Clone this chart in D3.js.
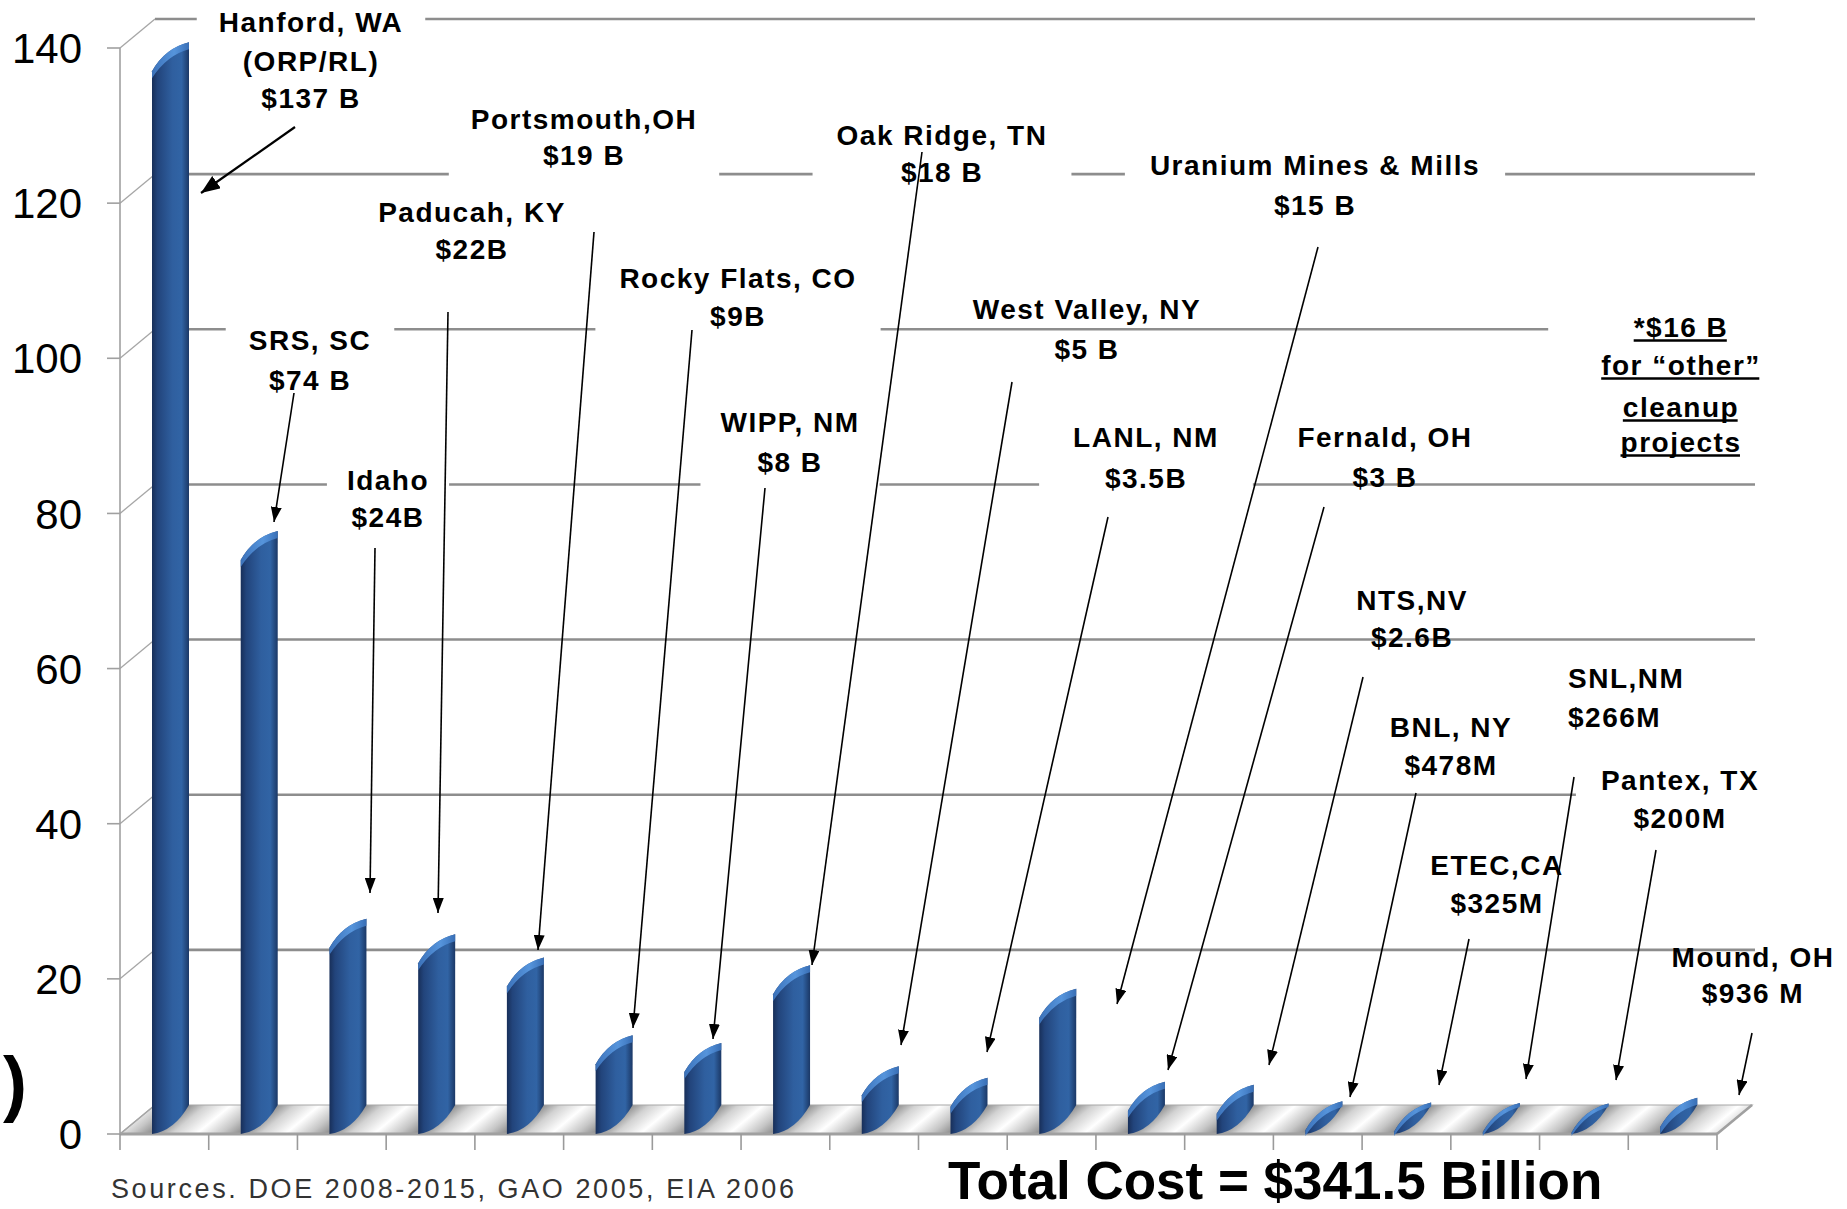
<!DOCTYPE html>
<html><head><meta charset="utf-8">
<script src="https://cdn.jsdelivr.net/npm/d3@7"></script>
<style>
html,body{margin:0;padding:0;background:#fff;}
svg{display:block;}
text{font-family:"Liberation Sans", Arial, Helvetica, sans-serif;}
</style></head><body>
<svg id="c" width="1847" height="1209"></svg>
<script>
// ---------------- data ----------------
const sites = ["Hanford, WA (ORP/RL)","SRS, SC","Idaho","Paducah, KY","Portsmouth, OH","Rocky Flats, CO","WIPP, NM","Oak Ridge, TN","West Valley, NY","LANL, NM","Uranium Mines & Mills","Fernald, OH","NTS, NV","BNL, NY","ETEC, CA","SNL, NM","Pantex, TX","Mound, OH"];
const costs = [137, 74, 24, 22, 19, 9, 8, 18, 5, 3.5, 15, 3, 2.6, 0.478, 0.325, 0.266, 0.2, 0.936];
const labelLines = [
  ["Hanford, WA","(ORP/RL)","$137 B"],
  ["SRS, SC","$74 B"],
  ["Idaho","$24B"],
  ["Paducah, KY","$22B"],
  ["Portsmouth,OH","$19 B"],
  ["Rocky Flats, CO","$9B"],
  ["WIPP, NM","$8 B"],
  ["Oak Ridge, TN","$18 B"],
  ["West Valley, NY","$5 B"],
  ["LANL, NM","$3.5B"],
  ["Uranium Mines & Mills","$15 B"],
  ["Fernald, OH","$3 B"],
  ["NTS,NV","$2.6B"],
  ["BNL, NY","$478M"],
  ["ETEC,CA","$325M"],
  ["SNL,NM","$266M"],
  ["Pantex, TX","$200M"],
  ["Mound, OH","$936 M"]
];
const otherNote = ["*$16 B","for \u201Cother\u201D","cleanup","projects"];
const yTicks = [0,20,40,60,80,100,120,140];
const sourceText = "Sources. DOE 2008-2015, GAO 2005, EIA 2006";
const totalText = "Total Cost = $341.5 Billion";

// ---------------- layout ----------------
const svg = d3.select("#c");
const X0 = 120, X1 = 1717, YB = 1134, YT = 48;
const DX = 35, DY = -29;          // depth projection
const BAR_OFF = 32, BAR_W = 37;
const GRID_END = 1755;

const x = d3.scaleBand().domain(d3.range(sites.length)).range([X0, X1]).padding(0);
const y = d3.scaleLinear().domain([0, 140]).range([YB, YT]);

const defs = svg.append("defs");

// bar gradient
const bg = defs.append("linearGradient").attr("id","barGrad").attr("x1","0").attr("x2","1").attr("y1","0").attr("y2","0");
[[0,"#182f59"],[0.15,"#22447b"],[0.55,"#2f5f9f"],[0.8,"#3164a5"],[1,"#1b3866"]].forEach(s=>bg.append("stop").attr("offset",s[0]).attr("stop-color",s[1]));
const capG = defs.append("linearGradient").attr("id","capGrad").attr("x1","0").attr("x2","1").attr("y1","0").attr("y2","0");
[[0,"#3f78c2"],[0.6,"#5a9ae2"],[1,"#3c74bd"]].forEach(s=>capG.append("stop").attr("offset",s[0]).attr("stop-color",s[1]));

// floor gradient: repeating stripes along the depth direction
const dl = Math.hypot(DX, DY);
const nx = -DY/dl, ny = DX/dl;                 // unit normal to depth direction
const period = x.bandwidth()*nx;               // perpendicular distance between bands
const p0x = X0 + BAR_OFF, p0y = YB;
const fg = defs.append("linearGradient").attr("id","floorGrad")
  .attr("gradientUnits","userSpaceOnUse").attr("spreadMethod","repeat")
  .attr("x1", p0x).attr("y1", p0y)
  .attr("x2", p0x + nx*period).attr("y2", p0y + ny*period);
[[0,"#8a8a8a"],[0.22,"#d2d2d2"],[0.5,"#ffffff"],[0.78,"#c6c6c6"],[1,"#8a8a8a"]].forEach(s=>fg.append("stop").attr("offset",s[0]).attr("stop-color",s[1]));

// arrow markers
function marker(id, L, Wd){
  defs.append("marker").attr("id",id).attr("markerUnits","userSpaceOnUse")
   .attr("viewBox",`0 0 ${L} ${Wd}`).attr("markerWidth",L).attr("markerHeight",Wd)
   .attr("refX",L).attr("refY",Wd/2).attr("orient","auto")
   .append("path").attr("d",`M0,0 L${L},${Wd/2} L0,${Wd} Z`).attr("fill","#000");
}
marker("arr",15,11);
marker("arrBig",19,15);

// ---------------- floor ----------------
svg.append("path")
  .attr("d",`M${X0},${YB} L${X1},${YB} L${X1+DX},${YB+DY} L${X0+DX},${YB+DY} Z`)
  .attr("fill","url(#floorGrad)").attr("stroke","#a8a8a8").attr("stroke-width",1.2);
svg.append("line").attr("x1",X0).attr("x2",X1).attr("y1",YB).attr("y2",YB)
  .attr("stroke","#a0a0a0").attr("stroke-width",3);
svg.append("line").attr("x1",X1).attr("x2",X1+DX).attr("y1",YB).attr("y2",YB+DY)
  .attr("stroke","#a0a0a0").attr("stroke-width",2.5);

// ---------------- back wall gridlines & side wall ----------------
const grid = svg.append("g");
grid.selectAll("line.g").data(yTicks.filter(d=>d>0)).join("line")
  .attr("x1",X0+DX).attr("x2",GRID_END)
  .attr("y1",d=>y(d)+DY).attr("y2",d=>y(d)+DY)
  .attr("stroke","#8d8d8d").attr("stroke-width",2.6);
grid.selectAll("line.s").data(yTicks).join("line")
  .attr("x1",X0).attr("x2",X0+DX)
  .attr("y1",d=>y(d)).attr("y2",d=>y(d)+DY)
  .attr("stroke","#a6a6a6").attr("stroke-width",1.3);
// y axis
svg.append("line").attr("x1",X0).attr("x2",X0).attr("y1",YB).attr("y2",y(140))
  .attr("stroke","#a0a0a0").attr("stroke-width",1.6);
svg.selectAll("line.yt").data(yTicks).join("line")
  .attr("x1",X0-13).attr("x2",X0).attr("y1",d=>y(d)).attr("y2",d=>y(d))
  .attr("stroke","#a0a0a0").attr("stroke-width",1.6);
svg.selectAll("text.yl").data(yTicks).join("text")
  .attr("x",82).attr("y",d=>y(d)).attr("dy","0.36em").attr("text-anchor","end")
  .attr("font-size",42).attr("fill","#000").text(d=>d);
// x ticks
svg.selectAll("line.xt").data(d3.range(sites.length+1)).join("line")
  .attr("x1",i=>X0+i*x.bandwidth()).attr("x2",i=>X0+i*x.bandwidth())
  .attr("y1",YB).attr("y2",YB+16).attr("stroke","#9a9a9a").attr("stroke-width",1.6);

// ---------------- annotation layout ----------------
const annoLayout = [
 {cx:311, ly:[22,61,98], box:true, pad:22, from:[295,127], to:[201,193], big:true},
 {cx:310, ly:[340,380], box:true, pad:23, from:[294,393], to:[274,522]},
 {cx:388, ly:[480,517], box:true, pad:20, from:[375,548], to:[370,893]},
 {cx:472, ly:[212,249], box:false, from:[448,312], to:[438,913]},
 {cx:584, ly:[119,155], box:true, pad:22, from:[594,232], to:[538,950]},
 {cx:738, ly:[278,316], box:true, pad:24, from:[692,330], to:[633,1028]},
 {cx:790, ly:[422,462], box:true, pad:20, from:[765,488], to:[713,1039]},
 {cx:942, ly:[135,172], box:true, pad:24, from:[922,152], to:[812,965]},
 {cx:1087, ly:[309,349], box:false, from:[1012,382], to:[901,1045]},
 {cx:1146, ly:[437,478], box:true, pad:34, from:[1108,517], to:[987,1052]},
 {cx:1315, ly:[165,205], box:true, pad:25, from:[1318,247], to:[1117,1004]},
 {cx:1385, ly:[437,477], box:false, from:[1324,507], to:[1168,1070]},
 {cx:1412, ly:[600,637], box:false, from:[1363,677], to:[1269,1065]},
 {cx:1451, ly:[727,765], box:false, from:[1416,793], to:[1350,1097]},
 {cx:1497, ly:[865,903], box:false, from:[1469,939], to:[1439,1085]},
 {cx:1568, anchor:"start", ly:[678,717], box:false, from:[1574,777], to:[1526,1079]},
 {cx:1680, ly:[780,818], box:true, pad:25, from:[1656,850], to:[1616,1080]},
 {cx:1753, ly:[957,993], box:false, from:[1752,1033], to:[1739,1095]}
];
const noteLayout = {cx:1681, ly:[327,365,407,442], padL:53};

const boxLayer = svg.append("g");
const textLayer = svg.append("g");
const FONT = 28, LS = 1.5;

function addLines(g, lines, cx, ly, anchor){
  return lines.map((s,k)=> g.append("text")
      .attr("x",cx).attr("y",ly[k]).attr("dy","0.36em")
      .attr("text-anchor",anchor||"middle")
      .attr("font-size",FONT).attr("font-weight","bold").attr("letter-spacing",LS)
      .attr("fill","#000").text(s));
}

annoLayout.forEach((L,i)=>{
  const nodes = addLines(textLayer, labelLines[i], L.cx, L.ly, L.anchor);
  if (L.box){
    let minX=1e9,maxX=-1e9;
    nodes.forEach(n=>{const b=n.node().getBBox(); minX=Math.min(minX,b.x); maxX=Math.max(maxX,b.x+b.width);});
    boxLayer.append("rect").attr("x",minX-L.pad).attr("width",maxX-minX+2*L.pad)
      .attr("y",L.ly[0]-22).attr("height",L.ly[L.ly.length-1]-L.ly[0]+46).attr("fill","#fff");
  }
});

// "other" note, underlined
{
  const nodes = addLines(textLayer, otherNote, noteLayout.cx, noteLayout.ly);
  let minX=1e9;
  nodes.forEach((n,k)=>{
    const b=n.node().getBBox(); minX=Math.min(minX,b.x);
    textLayer.append("line").attr("x1",b.x).attr("x2",b.x+b.width-LS)
      .attr("y1",noteLayout.ly[k]+13.5).attr("y2",noteLayout.ly[k]+13.5)
      .attr("stroke","#000").attr("stroke-width",2.4);
  });
  boxLayer.append("rect").attr("x",minX-noteLayout.padL).attr("width",1847-(minX-noteLayout.padL))
    .attr("y",noteLayout.ly[0]-22).attr("height",noteLayout.ly[3]-noteLayout.ly[0]+44).attr("fill","#fff");
}

// ---------------- bars ----------------
const bars = svg.append("g");
function barPath(i,v){
  const L = x(i)+BAR_OFF, R = L+BAR_W, yt = y(v);
  return `M${L},${yt} L${L},${YB} Q${L+BAR_W*0.6},${YB-3} ${R},${YB+DY} L${R},${yt+DY} Q${L+BAR_W*0.35},${yt+DY*0.8} ${L},${yt} Z`;
}
function capPath(i,v){
  const L = x(i)+BAR_OFF, R = L+BAR_W, yt = y(v);
  const h = Math.min(7, (YB-yt)+2);
  return `M${L},${yt} Q${L+BAR_W*0.35},${yt+DY*0.8} ${R},${yt+DY} L${R},${yt+DY+h} Q${L+BAR_W*0.4},${yt+DY*0.8+h} ${L},${yt+h} Z`;
}
bars.selectAll("path.bar").data(costs).join("path")
  .attr("d",(v,i)=>barPath(i,v)).attr("fill","url(#barGrad)");
bars.selectAll("path.cap").data(costs).join("path")
  .attr("d",(v,i)=>capPath(i,v)).attr("fill","url(#capGrad)").attr("opacity",0.9);

textLayer.raise();

// ---------------- arrows ----------------
const arrows = svg.append("g");
annoLayout.forEach(L=>{
  arrows.append("line").attr("x1",L.from[0]).attr("y1",L.from[1]).attr("x2",L.to[0]).attr("y2",L.to[1])
    .attr("stroke","#000").attr("stroke-width",L.big?2.2:1.6)
    .attr("marker-end",L.big?"url(#arrBig)":"url(#arr)");
});

// ---------------- bottom texts ----------------
svg.append("text").attr("x",111).attr("y",1198).attr("font-size",27).attr("letter-spacing",2.6)
  .attr("fill","#333").text(sourceText);
svg.append("text").attr("x",948).attr("y",1199).attr("font-size",53).attr("font-weight","bold")
  .attr("fill","#000").text(totalText);
svg.append("text").attr("x",3).attr("y",1108).attr("font-size",72).attr("font-weight","bold")
  .attr("fill","#000").text(")");
</script>
</body></html>
